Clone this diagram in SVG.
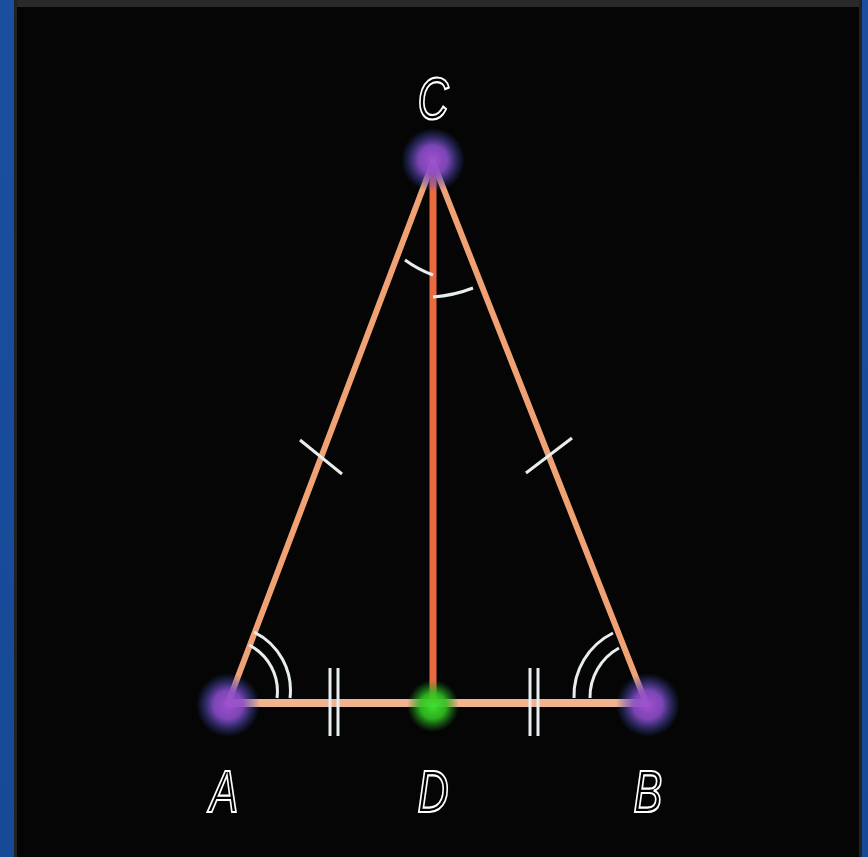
<svg xmlns="http://www.w3.org/2000/svg" width="868" height="857" viewBox="0 0 868 857">
<defs>
<style>
.side{stroke:#f0a275;stroke-width:6;stroke-linecap:round;fill:none}
.base{stroke:#f2b391;stroke-width:8;fill:none}
.alt{stroke:#ea6a40;stroke-width:7;fill:none}
.mark{stroke:#e8eef0;stroke-width:3;fill:none}
.lbl{font-family:"Liberation Sans",Arial,sans-serif;font-style:italic;font-size:60px;fill:#000;stroke:#fff;stroke-width:2.2;text-anchor:middle}
</style>
<radialGradient id="gp">
<stop offset="0" stop-color="#a050d0"/>
<stop offset="0.45" stop-color="#8a4cc8" stop-opacity="0.9"/>
<stop offset="1" stop-color="#3050c0" stop-opacity="0"/>
</radialGradient>
<radialGradient id="gg">
<stop offset="0" stop-color="#40e030"/>
<stop offset="0.5" stop-color="#30c020" stop-opacity="0.9"/>
<stop offset="1" stop-color="#209020" stop-opacity="0"/>
</radialGradient>
<linearGradient id="blue" x1="0" y1="0" x2="0" y2="1">
<stop offset="0" stop-color="#1a4fa0"/>
<stop offset="1" stop-color="#164a96"/>
</linearGradient>
</defs>
<rect width="868" height="857" fill="url(#blue)"/>
<rect x="14" y="0" width="848" height="857" fill="#050505"/>
<rect x="14" y="0" width="848" height="7" fill="#2a2a2a"/>
<rect x="14" y="0" width="3" height="857" fill="#222"/>
<rect x="859" y="0" width="3" height="857" fill="#222"/>
<g id="connectors">
<line class="side" x1="433" y1="162" x2="228" y2="703"/>
<line class="side" x1="433" y1="162" x2="646" y2="703"/>
<line class="base" x1="228" y1="703" x2="646" y2="703"/>
<line class="alt" x1="433" y1="165" x2="433" y2="703"/>
</g>
<g id="marks">
<path class="mark" d="M405,260 A115,115 0 0 0 433,275"/>
<path class="mark" d="M433,297 A137,137 0 0 0 473,288"/>
<line class="mark" x1="300" y1="440" x2="342" y2="474"/>
<line class="mark" x1="526" y1="473" x2="572" y2="438"/>
<path class="mark" d="M254,632 A65,65 0 0 1 290,698"/>
<path class="mark" d="M249,645 A52,52 0 0 1 277,698"/>
<path class="mark" d="M574,698 A70,70 0 0 1 613,633"/>
<path class="mark" d="M590,698 A56,56 0 0 1 619,648"/>
<line class="mark" x1="330" y1="668" x2="330" y2="736"/>
<line class="mark" x1="338" y1="668" x2="338" y2="736"/>
<line class="mark" x1="530" y1="668" x2="530" y2="736"/>
<line class="mark" x1="538" y1="668" x2="538" y2="736"/>
</g>
<g id="C"><circle cx="433" cy="160" r="32" fill="url(#gp)"/><text class="lbl" x="0" y="119" transform="translate(433 0) scale(0.72 1)">C</text></g>
<g id="A"><circle cx="228" cy="705" r="32" fill="url(#gp)"/><text class="lbl" x="0" y="812" transform="translate(224 0) scale(0.72 1)">A</text></g>
<g id="D"><circle cx="433" cy="706" r="26" fill="url(#gg)"/><text class="lbl" x="0" y="812" transform="translate(433 0) scale(0.72 1)">D</text></g>
<g id="B"><circle cx="648" cy="705" r="32" fill="url(#gp)"/><text class="lbl" x="0" y="812" transform="translate(648 0) scale(0.72 1)">B</text></g>
</svg>
